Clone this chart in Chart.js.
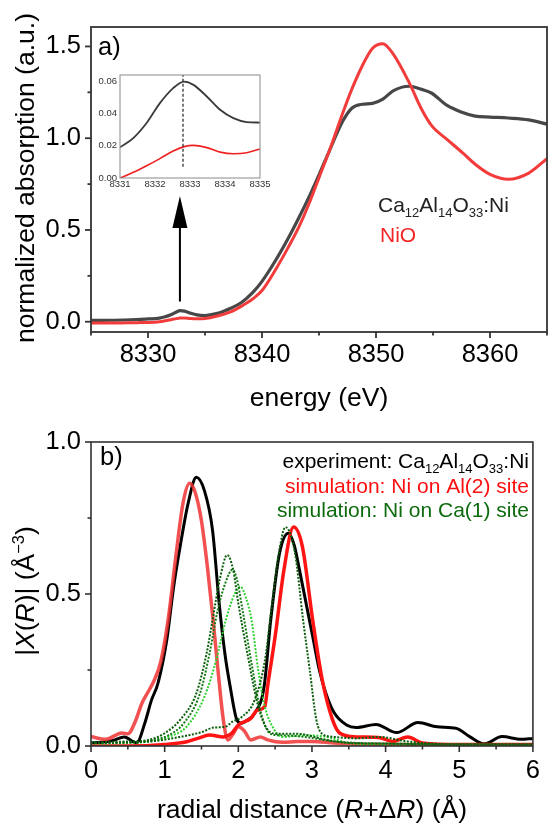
<!DOCTYPE html>
<html><head><meta charset="utf-8">
<script src="https://cdn.jsdelivr.net/npm/chart.js@4.4.1/dist/chart.umd.min.js"></script>
<style>
html,body{margin:0;padding:0;background:#fff}
body{position:relative;width:550px;height:827px;overflow:hidden}
canvas{position:absolute;display:block}
</style></head><body>
<canvas id="cA" width="550" height="415" style="left:0;top:0"></canvas>
<canvas id="cB" width="550" height="412" style="left:0;top:415px"></canvas>
<canvas id="cI" width="200" height="140" style="left:80px;top:60px"></canvas>
<script>
// ---------------- DATA ----------------
// panel a: XANES
const energy = [8325, 8327, 8329, 8330, 8331, 8331.5, 8332, 8332.5, 8332.8, 8333.2, 8333.7, 8334.3, 8335, 8336, 8337.3, 8338.2, 8339.2, 8340, 8341.2, 8342.3, 8343.3, 8344.2, 8345, 8345.9, 8347.1, 8347.9, 8348.8, 8349.7, 8350.6, 8351.5, 8352.9, 8354, 8354.9, 8356.2, 8357.6, 8358.7, 8360, 8361.6, 8363.4, 8365];
const absCa = [0.007, 0.008, 0.012, 0.015, 0.02, 0.027, 0.038, 0.053, 0.06, 0.058, 0.047, 0.037, 0.034, 0.044, 0.075, 0.105, 0.16, 0.22, 0.335, 0.455, 0.575, 0.69, 0.80, 0.93, 1.095, 1.165, 1.185, 1.19, 1.213, 1.258, 1.283, 1.266, 1.245, 1.18, 1.14, 1.12, 1.115, 1.11, 1.10, 1.077];
const absNiO = [-0.007, -0.007, -0.005, -0.004, 0.0, 0.005, 0.011, 0.017, 0.02, 0.0205, 0.018, 0.0165, 0.018, 0.03, 0.055, 0.085, 0.125, 0.17, 0.285, 0.405, 0.525, 0.655, 0.785, 0.93, 1.14, 1.27, 1.395, 1.49, 1.515, 1.459, 1.304, 1.158, 1.067, 0.995, 0.92, 0.858, 0.803, 0.776, 0.81, 0.889];
const xTicksA = [8330, 8340, 8350, 8360];
const xMinorA = [8325, 8335, 8345, 8355, 8365];
const yTicksA = [0, 0.5, 1.0, 1.5];
const yMinorA = [0.25, 0.75, 1.25];

// inset: pre-edge
const insetE = [8331, 8331.38, 8331.76, 8332.14, 8332.52, 8332.83, 8333.1, 8333.48, 8333.86, 8334.24, 8334.62, 8335];
const insetCa = [0.019, 0.0247, 0.034, 0.0463, 0.0556, 0.0596, 0.0576, 0.0504, 0.0422, 0.037, 0.0346, 0.0343];
const insetNiO = [0.0, 0.0035, 0.0076, 0.012, 0.0167, 0.0194, 0.0202, 0.0188, 0.016, 0.015, 0.0156, 0.018];
const preEdgeE = 8332.8;
const insetXTicks = [8331, 8332, 8333, 8334, 8335];
const insetYTicks = [0, 0.02, 0.04, 0.06];

// panel b: |X(R)|
const rExp = [0, 0.15, 0.3, 0.45, 0.62, 0.73, 0.82, 0.91, 1.03, 1.12, 1.21, 1.32, 1.43, 1.54, 1.65, 1.74, 1.82, 1.89, 1.98, 2.04, 2.12, 2.22, 2.35, 2.44, 2.56, 2.68, 2.76, 2.83, 2.92, 3.01, 3.1, 3.19, 3.3, 3.47, 3.6, 3.87, 4.15, 4.44, 4.7, 4.96, 5.14, 5.34, 5.58, 5.84, 6.0];
const chiExp = [0.01, 0.012, 0.018, 0.03, 0.01, 0.075, 0.15, 0.207, 0.35, 0.52, 0.656, 0.80, 0.884, 0.84, 0.71, 0.47, 0.30, 0.195, 0.086, 0.075, 0.085, 0.107, 0.195, 0.414, 0.634, 0.70, 0.66, 0.58, 0.47, 0.36, 0.25, 0.173, 0.11, 0.069, 0.061, 0.071, 0.044, 0.077, 0.063, 0.058, 0.031, 0.007, 0.031, 0.022, 0.025];
const rAl1 = [0, 0.2, 0.42, 0.5, 0.6, 0.69, 0.78, 0.86, 0.95, 1.05, 1.15, 1.25, 1.34, 1.42, 1.5, 1.58, 1.66, 1.74, 1.8, 1.86, 1.93, 2.0, 2.08, 2.17, 2.3, 2.4, 2.6, 2.8, 3.0, 3.3, 3.6, 4.0, 5.0, 6.0];
const chiAl1 = [0.031, 0.022, 0.043, 0.04, 0.08, 0.14, 0.18, 0.217, 0.28, 0.42, 0.62, 0.80, 0.864, 0.83, 0.74, 0.59, 0.41, 0.21, 0.08, 0.02, 0.04, 0.063, 0.05, 0.02, 0.03, 0.02, 0.012, 0.015, 0.015, 0.01, 0.006, 0.005, 0.004, 0.004];
const rAl2 = [0, 0.5, 1.0, 1.3, 1.45, 1.61, 1.8, 1.91, 2.0, 2.17, 2.26, 2.36, 2.4, 2.5, 2.62, 2.75, 2.87, 3.01, 3.14, 3.28, 3.38, 3.6, 3.9, 4.1, 4.3, 4.5, 5.0, 6.0];
const chiAl2 = [0.0, 0.0, 0.005, 0.014, 0.025, 0.036, 0.03, 0.042, 0.069, 0.091, 0.118, 0.13, 0.2, 0.36, 0.58, 0.72, 0.656, 0.414, 0.217, 0.086, 0.042, 0.03, 0.028, 0.015, 0.03, 0.01, 0.005, 0.005];
const rCa1a = [0, 0.5, 0.78, 1.0, 1.21, 1.43, 1.57, 1.65, 1.75, 1.85, 1.93, 2.0, 2.14, 2.27, 2.4, 2.53, 2.8, 3.2, 3.5, 4.0, 5.0, 6.0];
const chiCa1a = [0.012, 0.015, 0.02, 0.042, 0.086, 0.173, 0.305, 0.414, 0.55, 0.628, 0.58, 0.47, 0.283, 0.13, 0.053, 0.04, 0.04, 0.02, 0.01, 0.008, 0.005, 0.005];
const rCa1b = [0, 0.5, 0.8, 1.05, 1.26, 1.48, 1.61, 1.72, 1.83, 1.92, 1.98, 2.05, 2.18, 2.31, 2.44, 2.6, 2.9, 3.3, 4.0, 6.0];
const chiCa1b = [0.01, 0.012, 0.018, 0.035, 0.075, 0.173, 0.305, 0.447, 0.54, 0.58, 0.55, 0.458, 0.272, 0.107, 0.04, 0.035, 0.03, 0.015, 0.008, 0.005];
const rCa1c = [0, 0.5, 0.8, 1.05, 1.3, 1.54, 1.7, 1.83, 1.95, 2.03, 2.1, 2.18, 2.27, 2.36, 2.49, 2.6, 2.9, 3.2, 3.5, 4.0, 6.0];
const chiCa1c = [0.008, 0.01, 0.015, 0.03, 0.064, 0.162, 0.283, 0.414, 0.5, 0.524, 0.49, 0.414, 0.25, 0.13, 0.053, 0.03, 0.035, 0.03, 0.01, 0.005, 0.003];
const rCa1d = [0, 0.8, 1.21, 1.52, 1.65, 1.83, 1.92, 2.05, 2.22, 2.36, 2.46, 2.55, 2.64, 2.77, 2.88, 2.97, 3.06, 3.14, 3.3, 3.6, 3.9, 4.3, 5.0, 6.0];
const chiCa1d = [0.01, 0.015, 0.03, 0.047, 0.06, 0.064, 0.08, 0.096, 0.15, 0.28, 0.47, 0.634, 0.72, 0.634, 0.414, 0.25, 0.086, 0.04, 0.03, 0.025, 0.03, 0.015, 0.005, 0.005];
const xTicksB = [0, 1, 2, 3, 4, 5, 6];
const xMinorB = [0.5, 1.5, 2.5, 3.5, 4.5, 5.5];
const yTicksB = [0, 0.5, 1.0];
const yMinorB = [0.25, 0.75];

// ---------------- HELPERS ----------------
const FAM = '"Liberation Sans", Arial, Helvetica, sans-serif';
const pts = (xs, ys) => xs.map((x, i) => ({x, y: ys[i]}));

function drawRich(ctx, segs, x, y, o) {
  const parts = segs.map(s => {
    const small = s.sub || s.sup;
    const size = small ? o.size * 0.62 : o.size;
    const font = (s.it ? 'italic ' : '') + size + 'px ' + FAM;
    ctx.font = font;
    return {s, font, w: ctx.measureText(s.t).width,
      dy: s.sub ? o.size * 0.24 : (s.sup ? -o.size * 0.38 : 0)};
  });
  const total = parts.reduce((a, p) => a + p.w, 0);
  ctx.save();
  ctx.translate(x, y);
  if (o.rotate) ctx.rotate(o.rotate);
  let cx = o.align === 'right' ? -total : (o.align === 'center' ? -total / 2 : 0);
  ctx.textBaseline = 'alphabetic';
  ctx.textAlign = 'left';
  for (const p of parts) {
    ctx.font = p.font;
    ctx.fillStyle = p.s.color || o.color || '#000';
    ctx.fillText(p.s.t, cx, p.dy);
    cx += p.w;
  }
  ctx.restore();
}

function frameTicks(o) {
  return {
    id: 'frameTicks',
    afterDatasetsDraw(chart) {
      const {ctx, chartArea: a, scales} = chart;
      const x = scales.x, y = scales.y;
      ctx.save();
      ctx.strokeStyle = o.color; ctx.lineWidth = o.width; ctx.lineCap = 'square';
      ctx.strokeRect(a.left, a.top, a.right - a.left, a.bottom - a.top);
      ctx.lineCap = 'butt';
      const tick = (px, py, dx, dy) => { ctx.beginPath(); ctx.moveTo(px, py); ctx.lineTo(px + dx, py + dy); ctx.stroke(); };
      (o.xMajor || []).forEach(v => tick(x.getPixelForValue(v), a.bottom, 0, o.major));
      (o.xMinor || []).forEach(v => tick(x.getPixelForValue(v), a.bottom, 0, o.minor));
      (o.yMajor || []).forEach(v => tick(a.left, y.getPixelForValue(v), -o.major, 0));
      (o.yMinor || []).forEach(v => tick(a.left, y.getPixelForValue(v), -o.minor, 0));
      ctx.restore();
    }
  };
}

function textPlugin(fn) {
  return { id: 'texts', afterDraw(chart) { fn(chart, chart.ctx); } };
}

function linScale(min, max, ticks, fmt, font, pad, fit, axis, color) {
  return {
    type: 'linear', min, max,
    afterBuildTicks: s => { s.ticks = ticks.map(v => ({value: v})); },
    ticks: {font: {family: FAM, size: font}, color: color || '#000', padding: pad,
      maxRotation: 0, autoSkip: false, callback: fmt},
    grid: {display: false, drawTicks: false},
    border: {display: false},
    afterFit: s => { if (axis === 'x') s.height = fit; else s.width = fit; }
  };
}

Chart.defaults.font.family = FAM;
const base = {
  responsive: false, animation: false, events: [],
  plugins: {legend: {display: false}, tooltip: {enabled: false}},
  elements: {point: {radius: 0}}
};

// ---------------- PANEL A ----------------
const arrowE = 8332.8, arrowTail = 0.11, arrowTip = 0.685;
new Chart(document.getElementById('cA'), {
  type: 'line',
  data: {datasets: [
    {data: pts(energy, absNiO), borderColor: '#f23b3b', borderWidth: 3, cubicInterpolationMode: 'monotone'},
    {data: pts(energy, absCa), borderColor: '#474747', borderWidth: 3.2, cubicInterpolationMode: 'monotone'}
  ]},
  options: Object.assign({}, base, {
    layout: {padding: {top: 27, right: 3, left: 0, bottom: 0}},
    scales: {
      x: linScale(8325, 8365, xTicksA, v => String(v), 25.5, 8, 83, 'x'),
      y: linScale(-0.056, 1.606, yTicksA, v => v.toFixed(1), 25.5, 10, 91, 'y')
    }
  }),
  plugins: [
    frameTicks({color: '#333', width: 1.8, major: 6, minor: 3.5, xMajor: xTicksA, xMinor: xMinorA, yMajor: yTicksA, yMinor: yMinorA}),
    textPlugin((chart, ctx) => {
      const {x, y} = chart.scales;
      const ax = x.getPixelForValue(arrowE), y0 = y.getPixelForValue(arrowTail), y1 = y.getPixelForValue(arrowTip);
      ctx.save();
      ctx.strokeStyle = '#000'; ctx.fillStyle = '#000'; ctx.lineWidth = 2;
      ctx.beginPath(); ctx.moveTo(ax, y0); ctx.lineTo(ax, y1 + 30); ctx.stroke();
      ctx.beginPath(); ctx.moveTo(ax, y1); ctx.lineTo(ax - 7.5, y1 + 32); ctx.lineTo(ax + 7.5, y1 + 32); ctx.closePath(); ctx.fill();
      ctx.restore();
      const a = chart.chartArea;
      drawRich(ctx, [{t: 'a)'}], a.left + 7, 55, {size: 25.5});
      drawRich(ctx, [{t: 'normalized absorption (a.u.)'}], 34, 178, {size: 26.5, align: 'center', rotate: -Math.PI / 2});
      drawRich(ctx, [{t: 'energy (eV)'}], (a.left + a.right) / 2, 406, {size: 26.5, align: 'center'});
      drawRich(ctx, [{t: 'Ca'}, {t: '12', sub: 1}, {t: 'Al'}, {t: '14', sub: 1}, {t: 'O'}, {t: '33', sub: 1}, {t: ':Ni'}], 378, 212, {size: 21, color: '#222'});
      drawRich(ctx, [{t: 'NiO'}], 380, 242, {size: 21, color: '#f22626'});
    })
  ]
});

// ---------------- INSET ----------------
new Chart(document.getElementById('cI'), {
  type: 'line',
  data: {datasets: [
    {data: [{x: preEdgeE, y: 0.007}, {x: preEdgeE, y: 0.0637}], borderColor: '#222', borderWidth: 1.2, borderDash: [3, 2]},
    {data: pts(insetE, insetNiO), borderColor: '#f02020', borderWidth: 1.6, cubicInterpolationMode: 'monotone'},
    {data: pts(insetE, insetCa), borderColor: '#3a3a3a', borderWidth: 1.8, cubicInterpolationMode: 'monotone'}
  ]},
  options: Object.assign({}, base, {
    layout: {padding: {top: 15, right: 20, left: 0, bottom: 0}},
    scales: {
      x: linScale(8331, 8335, insetXTicks, v => String(v), 9.5, 1, 22, 'x', '#333'),
      y: linScale(0, 0.0637, insetYTicks, v => v.toFixed(2), 9.5, 3, 40, 'y', '#333')
    }
  }),
  plugins: [frameTicks({color: '#8a8a8a', width: 1, major: 0, minor: 0})]
});

// ---------------- PANEL B ----------------
const dot = (c) => ({borderColor: c, borderWidth: 2, borderDash: [2, 1.5], cubicInterpolationMode: 'monotone'});
new Chart(document.getElementById('cB'), {
  type: 'line',
  data: {datasets: [
    Object.assign({data: pts(rCa1d, chiCa1d)}, dot('#0b5e0b')),
    Object.assign({data: pts(rCa1a, chiCa1a)}, dot('#0b5e0b')),
    Object.assign({data: pts(rCa1b, chiCa1b)}, dot('#157a15')),
    Object.assign({data: pts(rCa1c, chiCa1c)}, dot('#2fd02f')),
    {data: pts(rAl2, chiAl2), borderColor: '#ff1414', borderWidth: 3.5, cubicInterpolationMode: 'monotone'},
    {data: pts(rAl1, chiAl1), borderColor: 'rgba(240,50,50,0.85)', borderWidth: 3.5, cubicInterpolationMode: 'monotone'},
    {data: pts(rExp, chiExp), borderColor: '#000', borderWidth: 3, cubicInterpolationMode: 'monotone'}
  ]},
  options: Object.assign({}, base, {
    layout: {padding: {top: 27, right: 3, left: 0, bottom: 0}},
    scales: {
      x: linScale(0, 6, xTicksB, v => String(v), 25.5, 10, 81, 'x'),
      y: linScale(0, 1, yTicksB, v => v.toFixed(1), 25.5, 10, 91, 'y')
    }
  }),
  plugins: [
    frameTicks({color: '#333', width: 1.6, major: 6, minor: 3.5, xMajor: xTicksB, xMinor: xMinorB, yMajor: yTicksB, yMinor: yMinorB}),
    textPlugin((chart, ctx) => {
      const a = chart.chartArea;
      drawRich(ctx, [{t: 'b)'}], a.left + 9, 50, {size: 25.5});
      drawRich(ctx, [{t: '|'}, {t: 'X', it: 1}, {t: '('}, {t: 'R', it: 1}, {t: ')| (Å'}, {t: '\u22123', sup: 1}, {t: ')'}], 34, 176, {size: 26.5, align: 'center', rotate: -Math.PI / 2});
      drawRich(ctx, [{t: 'radial distance ('}, {t: 'R', it: 1}, {t: '+Δ'}, {t: 'R', it: 1}, {t: ') (Å)'}], (a.left + a.right) / 2, 403, {size: 26.5, align: 'center'});
      drawRich(ctx, [{t: 'experiment: Ca'}, {t: '12', sub: 1}, {t: 'Al'}, {t: '14', sub: 1}, {t: 'O'}, {t: '33', sub: 1}, {t: ':Ni'}], 529, 53, {size: 21, align: 'right', color: '#000'});
      drawRich(ctx, [{t: 'simulation: Ni on Al(2) site'}], 529, 78, {size: 21, align: 'right', color: '#ff1010'});
      drawRich(ctx, [{t: 'simulation: Ni on Ca(1) site'}], 529, 102, {size: 21, align: 'right', color: '#0d6b0d'});
    })
  ]
});
</script>
</body></html>
